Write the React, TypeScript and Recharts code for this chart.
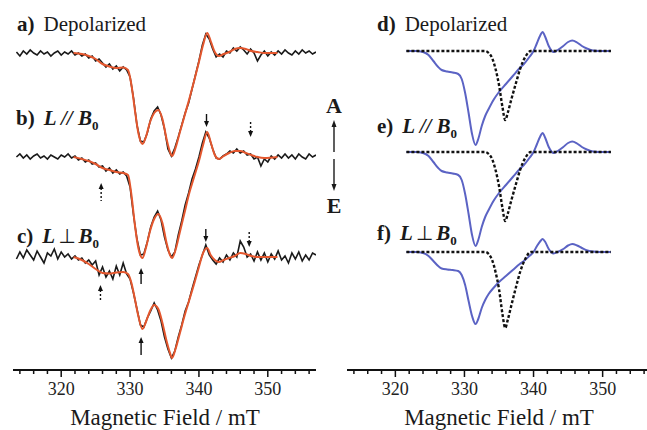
import React from 'react';
import { LineChart, Line, XAxis, YAxis, ReferenceDot } from 'recharts';

// magnetic field grid of the measured (noisy) spectra, mT
const FIELD = [
  313.5, 314, 314.5, 315, 315.5, 316, 316.5, 317, 317.5, 318,
  318.5, 319, 319.5, 320, 320.5, 321, 321.5, 322, 322.5, 323,
  323.5, 324, 324.5, 325, 325.5, 326, 326.5, 327, 327.5, 328,
  328.5, 329, 329.5, 330, 330.5, 331, 331.5, 332, 332.5, 333,
  333.5, 334, 334.5, 335, 335.5, 336, 336.5, 337, 337.5, 338,
  338.5, 339, 339.5, 340, 340.5, 341, 341.5, 342, 342.5, 343,
  343.5, 344, 344.5, 345, 345.5, 346, 346.5, 347, 347.5, 348,
  348.5, 349, 349.5, 350, 350.5, 351, 351.5, 352, 352.5, 353,
  353.5, 354, 354.5, 355, 355.5, 356, 356.5, 357,
];

// measured spectra (a.u., A up / E down)
const EXP_A = [
  1, -3, 2, -1, 3, 0, -2, 2, -1, 1,
  -3, 0, 2, -2, 1, -1, 2, -2, 0, -3,
  -1, -5, -3, -8, -6, -10, -14, -11, -16, -13,
  -18, -14, -17, -24, -45, -72, -88, -89, -80, -66,
  -58, -54, -62, -76, -96, -103, -95, -84, -72, -60,
  -50, -36, -22, -8, 8, 19, 14, 4, -4, -1,
  -4, 2, 0, 5, 2, 6, 3, -1, 4, 0,
  -8, -2, 2, -3, 1, -2, 2, -1, 3, 0,
  -2, 2, -1, 3, 0, 2, -1, 1,
];
const EXP_B = [
  0, 3, -1, 2, -2, 1, 3, -1, 1, -2,
  2, 0, -2, 2, 0, 3, -1, 1, -3, -1,
  -5, -3, -7, -6, -10, -9, -14, -11, -16, -13,
  -17, -15, -19, -30, -58, -82, -98, -97, -85, -70,
  -60, -54, -63, -80, -93, -100, -95, -78, -64, -48,
  -36, -22, -12, 0, 14, 25, 19, 8, -1, -2,
  1, 3, 6, 4, 8, 4, 6, 2, 3, -2,
  0, -9, -2, -5, 1, -2, 2, -1, 3, -1,
  2, -2, 3, 0, -2, 3, 0, 2,
];
const EXP_C = [
  -2, 5, -1, 7, 2, -3, 6, 0, -6, 4,
  1, 8, -2, 5, 0, 3, -2, 1, -3, -1,
  -6, -3, -8, -4, -18, -10, -20, -14, -22, -9,
  -18, -6, -17, -22, -36, -52, -68, -70, -61, -54,
  -46, -53, -64, -80, -92, -101, -94, -80, -68, -54,
  -45, -32, -20, -8, 2, 12, 2, -3, -7, -1,
  -5, 2, -3, 4, 0, 16, 10, 0, 3, -4,
  5, -3, 4, -5, 3, -2, 6, -3, 1, -6,
  4, -2, 5, -4, 2, -3, 4, 2,
];

// fitted spectra (red)
const FIT_FIELD = [
  321.8, 323, 324, 325, 326, 327, 328, 329, 329.7, 330.2,
  330.7, 331.2, 331.8, 332.3, 332.9, 333.5, 334.1, 334.7, 335.3, 335.8,
  336.1, 336.6, 337.2, 337.9, 338.6, 339.3, 340.0, 340.6, 341.2, 341.7,
  342.3, 342.9, 343.6, 344.4, 345.2, 346.0, 346.8, 347.6, 348.5, 349.5,
  351.4,
];
const FIT_A = [
  0, -1, -3, -6, -11, -13.5, -15, -14.5, -17, -32,
  -57, -80, -91, -84, -69, -60, -57, -66, -86, -99,
  -103, -95, -80, -63, -46, -28, -9, 8, 20, 12,
  1, -3, -1, 1, 4, 5, 4, 2, 1, 0,
  0,
];
const FIT_B = [
  0, -2, -4, -7, -11, -13, -15, -16, -18, -38,
  -68, -91, -101, -91, -74, -62, -57, -66, -86, -98,
  -101, -93, -76, -56, -36, -20, -4, 12, 25, 15,
  2, -2, 1, 4, 6, 6, 4, 2, 0, -1,
  0,
];
const FIT_C = [
  0, -3, -7, -12, -16, -16.5, -15.5, -15, -17, -26,
  -42, -59, -72, -65, -54, -48, -52, -66, -84, -96,
  -101, -92, -77, -59, -43, -27, -10, 4, 9, 2,
  -3, -5, -3, -1, 1, 4, 3, 1, 0, 0,
  0,
];

// simulated spectra (blue)
const SIM_FIELD = [
  321.6, 323, 324, 324.8, 325.5, 326.2, 326.7, 327.5, 328.3, 329.1,
  329.6, 330.1, 330.6, 331.1, 331.6, 332.0, 332.5, 333.0, 333.5, 334.2,
  335.0, 336.0, 337.0, 338.0, 338.6, 339.4, 340.0, 340.5, 341.0, 341.3,
  341.7, 342.2, 342.9, 343.5, 344.3, 345.0, 345.6, 346.3, 347.0, 347.8,
  348.6, 349.5, 351.2,
];
const SIM_DEPOL = [
  0, 0, -1, -4, -10, -16, -19, -20.5, -21.5, -23,
  -28, -42, -62, -83, -94, -88, -75, -65, -58, -49,
  -41, -33, -25, -17, -13, -6, 0, 8, 16, 19,
  14, 5, -1, 1, 5, 9, 10.5, 8.5, 5, 2.3,
  0.5, 0, 0,
];
const SIM_PERP = [
  0, 0, -1, -4, -9, -14, -16.5, -17.5, -18, -19,
  -23, -33, -49, -64, -72, -67, -56, -48, -42, -36,
  -30, -24, -18, -12, -9, -4, 0, 6, 11, 13,
  10, 3, -1.5, 0, 3, 6.5, 8, 6.5, 4, 1.5,
  0.5, 0, 0,
];

// second species (dotted)
const DOT_FIELD = [321.6, 333.0, 333.5, 334.0, 334.5, 335.0, 335.5, 335.9, 336.3, 336.8, 337.5, 338.1, 338.8, 339.6, 351.2];
const DOT_DEPOL = [0, 0, -2, -7, -18, -34, -56, -69, -61, -48, -31, -17, -6, 0, 0];
const DOT_PERP = [0, 0, -2, -8, -20, -37, -62, -76, -67, -53, -34, -19, -7, 0, 0];

// vertical offsets of stacked traces
const OFFSET_LEFT = { a: 317, b: 213, c: 113 };
const OFFSET_RIGHT = { d: 319, e: 218, f: 118 };

const TICKS = [314, 316, 318, 320, 322, 324, 326, 328, 330, 332, 334, 336, 338, 340, 342, 344, 346, 348, 350, 352, 354, 356];

// marker arrows: field, level (plot units), direction, dotted shaft
const MARKERS = [
  { x: 341.1, y: 243, dir: 'down', dotted: false, len: 13 },
  { x: 347.5, y: 233, dir: 'down', dotted: true, len: 16 },
  { x: 325.8, y: 187, dir: 'up', dotted: true, len: 18 },
  { x: 331.6, y: 102, dir: 'up', dotted: false, len: 16 },
  { x: 341.0, y: 128, dir: 'down', dotted: false, len: 13 },
  { x: 347.3, y: 123, dir: 'down', dotted: true, len: 17 },
  { x: 325.7, y: 85, dir: 'up', dotted: true, len: 17 },
  { x: 331.6, y: 33, dir: 'up', dotted: false, len: 18 },
];

const SERIF = "'Liberation Serif', 'Times New Roman', serif";

const series = (xs: number[], ys: number[], off: number) => xs.map((x, i) => ({ x, y: ys[i] + off }));

const AxisTick = (props: any) => {
  const { x, y, payload } = props;
  const major = payload.value % 10 === 0;
  return (
    <g>
      <line x1={x} x2={x} y1={y} y2={y + (major ? 7 : 4)} stroke="#111" strokeWidth={1.5} />
      {major && (
        <text x={x} y={y + 25} textAnchor="middle" fontSize={18} fontFamily={SERIF} fill="#222">
          {payload.value}
        </text>
      )}
    </g>
  );
};

const Arrow = (props: any) => {
  const { cx, cy, dir, dotted, len } = props;
  const s = dir === 'up' ? 1 : -1;
  const tail = cy + s * len;
  const head = `${cx - 2.5},${cy + s * 6} ${cx + 2.5},${cy + s * 6} ${cx},${cy}`;
  return (
    <g>
      <line x1={cx} x2={cx} y1={cy + s * 5} y2={tail} stroke="#111" strokeWidth={1.4} strokeDasharray={dotted ? '2 2' : undefined} />
      <polygon points={head} fill="#111" />
    </g>
  );
};

const Axis = () => (
  <XAxis
    dataKey="x"
    type="number"
    domain={[313, 357]}
    allowDataOverflow
    ticks={TICKS}
    interval={0}
    height={60}
    tickSize={0}
    tickMargin={0}
    tickLine={false}
    axisLine={{ stroke: '#111', strokeWidth: 2 }}
    tick={(p: any) => <AxisTick {...p} />}
  />
);

const LeftPanel = () => (
  <LineChart width={330} height={430} margin={{ top: 0, right: 14, bottom: 0, left: 13 }}>
    {Axis()}
    <YAxis hide type="number" domain={[0, 370]} allowDataOverflow />
    <Line data={series(FIELD, EXP_A, OFFSET_LEFT.a)} dataKey="y" type="linear" stroke="#1a1a1a" strokeWidth={1.6} dot={false} isAnimationActive={false} />
    <Line data={series(FIT_FIELD, FIT_A, OFFSET_LEFT.a)} dataKey="y" type="monotone" stroke="#e4572e" strokeWidth={2} dot={false} isAnimationActive={false} />
    <Line data={series(FIELD, EXP_B, OFFSET_LEFT.b)} dataKey="y" type="linear" stroke="#1a1a1a" strokeWidth={1.6} dot={false} isAnimationActive={false} />
    <Line data={series(FIT_FIELD, FIT_B, OFFSET_LEFT.b)} dataKey="y" type="monotone" stroke="#e4572e" strokeWidth={2} dot={false} isAnimationActive={false} />
    <Line data={series(FIELD, EXP_C, OFFSET_LEFT.c)} dataKey="y" type="linear" stroke="#1a1a1a" strokeWidth={1.6} dot={false} isAnimationActive={false} />
    <Line data={series(FIT_FIELD, FIT_C, OFFSET_LEFT.c)} dataKey="y" type="monotone" stroke="#e4572e" strokeWidth={2} dot={false} isAnimationActive={false} />
    {MARKERS.map((m, i) => (
      <ReferenceDot key={i} x={m.x} y={m.y} r={0} ifOverflow="visible" shape={(p: any) => <Arrow {...p} dir={m.dir} dotted={m.dotted} len={m.len} />} />
    ))}
  </LineChart>
);

const RightPanel = () => (
  <LineChart width={324} height={430} margin={{ top: 0, right: 3, bottom: 0, left: 17 }}>
    {Axis()}
    <YAxis hide type="number" domain={[0, 370]} allowDataOverflow />
    <Line data={series(SIM_FIELD, SIM_DEPOL, OFFSET_RIGHT.d)} dataKey="y" type="monotone" stroke="#5b63c4" strokeWidth={2} dot={false} isAnimationActive={false} />
    <Line data={series(DOT_FIELD, DOT_DEPOL, OFFSET_RIGHT.d)} dataKey="y" type="monotone" stroke="#111" strokeWidth={2.4} strokeDasharray="3 2" dot={false} isAnimationActive={false} />
    <Line data={series(SIM_FIELD, SIM_DEPOL, OFFSET_RIGHT.e)} dataKey="y" type="monotone" stroke="#5b63c4" strokeWidth={2} dot={false} isAnimationActive={false} />
    <Line data={series(DOT_FIELD, DOT_DEPOL, OFFSET_RIGHT.e)} dataKey="y" type="monotone" stroke="#111" strokeWidth={2.4} strokeDasharray="3 2" dot={false} isAnimationActive={false} />
    <Line data={series(SIM_FIELD, SIM_PERP, OFFSET_RIGHT.f)} dataKey="y" type="monotone" stroke="#5b63c4" strokeWidth={2} dot={false} isAnimationActive={false} />
    <Line data={series(DOT_FIELD, DOT_PERP, OFFSET_RIGHT.f)} dataKey="y" type="monotone" stroke="#111" strokeWidth={2.4} strokeDasharray="3 2" dot={false} isAnimationActive={false} />
  </LineChart>
);

const Label = ({ x, y, tag, kind }: { x: number; y: number; tag: string; kind: 'depol' | 'par' | 'perp' }) => (
  <text x={x} y={y} fontSize={21} fontFamily={SERIF} fill="#1a1a1a">
    <tspan fontWeight="bold">{tag}</tspan>
    {kind === 'depol' && <tspan dx={9}>Depolarized</tspan>}
    {kind === 'par' && (
      <>
        <tspan dx={9} fontWeight="bold" fontStyle="italic">L // B</tspan>
        <tspan fontSize={13} fontWeight="bold" dy={5}>0</tspan>
      </>
    )}
    {kind === 'perp' && (
      <>
        <tspan dx={9} fontWeight="bold" fontStyle="italic">L</tspan>
        <tspan dx={3} fontFamily="'DejaVu Sans', sans-serif" fontSize={20}>⊥</tspan>
        <tspan dx={3} fontWeight="bold" fontStyle="italic">B</tspan>
        <tspan fontSize={13} fontWeight="bold" dy={5}>0</tspan>
      </>
    )}
  </text>
);

export default function App() {
  return (
    <div style={{ position: 'absolute', left: 0, top: 0, width: 647, height: 430, overflow: 'hidden', background: '#fff' }}>
      <div style={{ position: 'absolute', left: 0, top: 0 }}>
        <LeftPanel />
      </div>
      <div style={{ position: 'absolute', left: 330, top: 0 }}>
        <RightPanel />
      </div>
      <svg width={647} height={430} style={{ position: 'absolute', left: 0, top: 0, pointerEvents: 'none' }}>
        <Label x={17} y={31} tag="a)" kind="depol" />
        <Label x={16} y={125} tag="b)" kind="par" />
        <Label x={17} y={243} tag="c)" kind="perp" />
        <Label x={377} y={31} tag="d)" kind="depol" />
        <Label x={377} y={133} tag="e)" kind="par" />
        <Label x={377} y={240} tag="f)" kind="perp" />
        <text x={334} y={113} textAnchor="middle" fontSize={22} fontWeight="bold" fontFamily={SERIF} fill="#1a1a1a">A</text>
        <text x={334} y={213} textAnchor="middle" fontSize={22} fontWeight="bold" fontFamily={SERIF} fill="#1a1a1a">E</text>
        <line x1={334} x2={334} y1={125} y2={152} stroke="#1a1a1a" strokeWidth={1.4} />
        <polygon points="331.5,127 336.5,127 334,120" fill="#1a1a1a" />
        <line x1={334} x2={334} y1={159} y2={186} stroke="#1a1a1a" strokeWidth={1.4} />
        <polygon points="331.5,184 336.5,184 334,191" fill="#1a1a1a" />
        <text x={165} y={425} textAnchor="middle" fontSize={23} fontFamily={SERIF} fill="#1a1a1a">Magnetic Field / mT</text>
        <text x={499} y={425} textAnchor="middle" fontSize={23} fontFamily={SERIF} fill="#1a1a1a">Magnetic Field / mT</text>
      </svg>
    </div>
  );
}
